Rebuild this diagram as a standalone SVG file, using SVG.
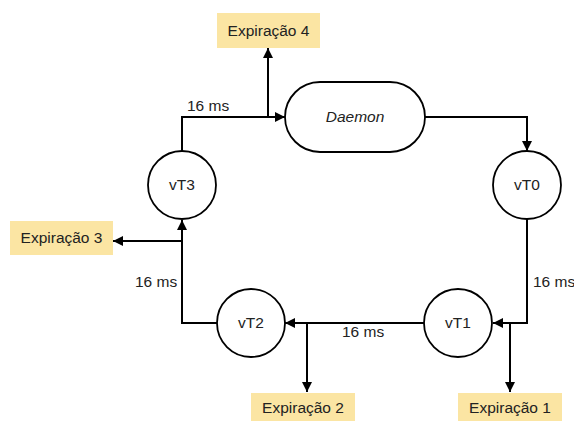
<svg xmlns="http://www.w3.org/2000/svg" width="574" height="421" viewBox="0 0 574 421">
<style>
text{font-family:"Liberation Sans",Arial,sans-serif;font-size:15.5px;fill:#222}
.c{fill:#fff;stroke:#000;stroke-width:1.8}
.e{fill:#fbe5a3}
.l{fill:none;stroke:#000;stroke-width:2}
</style>
<defs>
<marker id="a" viewBox="0 0 10 10" refX="10" refY="5" markerWidth="10" markerHeight="10" markerUnits="userSpaceOnUse" orient="auto">
<path d="M0,0L10,5L0,10z" fill="#000"/>
</marker>
</defs>
<rect width="574" height="421" fill="#fff"/>
<g id="connectors">
<path class="l" d="M182,151V117H285" marker-end="url(#a)"/>
<path class="l" d="M268,117V48" marker-end="url(#a)"/>
<path class="l" d="M425,117H527V151" marker-end="url(#a)"/>
<path class="l" d="M527,219V323H493" marker-end="url(#a)"/>
<path class="l" d="M510,323V392" marker-end="url(#a)"/>
<path class="l" d="M424,323H285" marker-end="url(#a)"/>
<path class="l" d="M307,323V392" marker-end="url(#a)"/>
<path class="l" d="M217,323H182V220" marker-end="url(#a)"/>
<path class="l" d="M182,241H113" marker-end="url(#a)"/>
<text x="187" y="111">16 ms</text>
<text x="533" y="287">16 ms</text>
<text x="342" y="337">16 ms</text>
<text x="135" y="287">16 ms</text>
</g>
<g id="daemon"><rect class="c" x="285" y="82" width="140" height="70" rx="35"/><text x="355" y="122" text-anchor="middle" font-style="italic">Daemon</text></g>
<g id="vT0"><circle class="c" cx="527" cy="185" r="34"/><text x="527" y="190" text-anchor="middle">vT0</text></g>
<g id="vT1"><circle class="c" cx="458" cy="323" r="34"/><text x="458" y="328" text-anchor="middle">vT1</text></g>
<g id="vT2"><circle class="c" cx="251" cy="323" r="34"/><text x="251" y="328" text-anchor="middle">vT2</text></g>
<g id="vT3"><circle class="c" cx="182" cy="185" r="34"/><text x="182" y="190" text-anchor="middle">vT3</text></g>
<g id="exp4"><rect class="e" x="217" y="13" width="103" height="35"/><text x="268.5" y="36" text-anchor="middle">Expiração 4</text></g>
<g id="exp3"><rect class="e" x="10" y="221" width="103" height="34"/><text x="61.5" y="243" text-anchor="middle">Expiração 3</text></g>
<g id="exp2"><rect class="e" x="251" y="393" width="104" height="34"/><text x="303" y="413" text-anchor="middle">Expiração 2</text></g>
<g id="exp1"><rect class="e" x="458" y="393" width="104" height="34"/><text x="510" y="413" text-anchor="middle">Expiração 1</text></g>
</svg>
